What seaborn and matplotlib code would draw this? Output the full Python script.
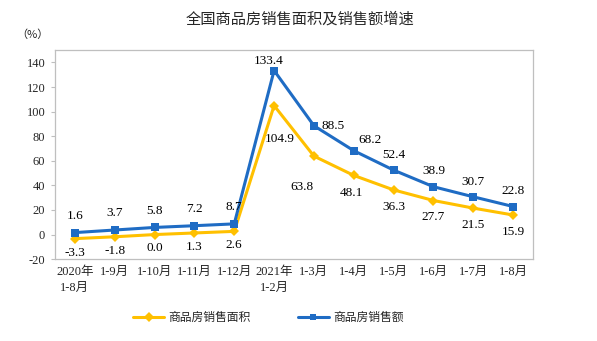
import matplotlib
matplotlib.use("Agg")
import matplotlib.pyplot as plt
import seaborn as sns
import pandas as pd
import numpy as np

categories = ["2020年\n1-8月", "1-9月", "1-10月", "1-11月", "1-12月", "2021年\n1-2月",
              "1-3月", "1-4月", "1-5月", "1-6月", "1-7月", "1-8月"]
area_growth = [-3.3, -1.8, 0.0, 1.3, 2.6, 104.9, 63.8, 48.1, 36.3, 27.7, 21.5, 15.9]
sales_growth = [1.6, 3.7, 5.8, 7.2, 8.7, 133.4, 88.5, 68.2, 52.4, 38.9, 30.7, 22.8]
area_name = "商品房销售面积"
sales_name = "商品房销售额"
yticks = [-20, 0, 20, 40, 60, 80, 100, 120, 140]

sns.set_theme(style="white")
plt.rcParams['font.family'] = ['Liberation Serif', 'Noto Sans CJK SC']
plt.rcParams['axes.unicode_minus'] = False

YELLOW = "#FFC000"
BLUE = "#1F6CC4"

fig = plt.figure(figsize=(5.97, 3.41), dpi=100)
ax = fig.add_axes([0.092, 0.240, 0.801, 0.613])

pos = np.arange(len(categories))
df = pd.DataFrame({"pos": np.concatenate([pos, pos]),
                   "value": area_growth + sales_growth,
                   "series": [area_name] * len(pos) + [sales_name] * len(pos)})

sns.lineplot(data=df, x="pos", y="value", hue="series", style="series",
             palette={area_name: YELLOW, sales_name: BLUE},
             markers={area_name: "D", sales_name: "s"}, dashes=False,
             markersize=5.5, markeredgewidth=0, linewidth=2.2, ax=ax, legend=False)

# data labels
sales_off = [(0, 12), (0, 12), (0, 12), (0, 12), (0, 12), (-4, 7), (14, 0), (12, 8),
             (0, 11), (0, 11), (0, 11), (0, 11)]
area_off = [(0, -10), (0, -10), (0, -10), (0, -10), (0, -10), (4, -24), (-9, -22), (-2, -13),
            (0, -12), (0, -12), (0, -12), (0, -12)]
for i, v in enumerate(sales_growth):
    dx, dy = sales_off[i]
    ax.annotate(f"{v:.1f}", (pos[i], v), xytext=(dx, dy), textcoords="offset points",
                ha="center", va="center", fontsize=9.5, color="black")
for i, v in enumerate(area_growth):
    dx, dy = area_off[i]
    ax.annotate(f"{v:.1f}", (pos[i], v), xytext=(dx, dy), textcoords="offset points",
                ha="center", va="center", fontsize=9.5, color="black")

ax.set_xlim(-0.5, len(categories) - 0.5)
ax.set_ylim(-20, 150)
ax.set_yticks(yticks)
ax.set_yticklabels([str(t) for t in yticks], fontsize=9)
ax.set_xticks(pos)
ax.set_xticklabels(categories, fontsize=9, linespacing=1.4)
ax.tick_params(axis='x', length=0, pad=5)
ax.set_xticks(np.arange(-0.5, len(categories)), minor=True)
ax.tick_params(axis='x', which='minor', direction='in', length=4, color="#bfbfbf", width=0.8)
ax.tick_params(axis='y', length=3, color="#bfbfbf", width=0.8, pad=4, direction='out', left=True)
ax.set_xlabel("")
ax.set_ylabel("")
for s in ax.spines.values():
    s.set_visible(True)
    s.set_color("#bfbfbf")
    s.set_linewidth(0.9)

fig.text(0.503, 0.945, "全国商品房销售面积及销售额增速", ha="center", va="center",
         fontsize=11, weight="medium", family=['Noto Sans CJK SC'])
fig.text(0.055, 0.897, "（%）", ha="center", va="center", fontsize=8,
         family=['Noto Sans CJK SC'])

from matplotlib.lines import Line2D
handles = [Line2D([0], [0], color=YELLOW, lw=2.2, marker="D", markersize=5, markeredgewidth=0),
           Line2D([0], [0], color=BLUE, lw=2.2, marker="s", markersize=5, markeredgewidth=0)]
fig.legend(handles, [area_name, sales_name], loc="center", bbox_to_anchor=(0.45, 0.068),
           ncol=2, frameon=False, handlelength=2.6, columnspacing=4,
           handletextpad=0.4, prop={'family': ['Noto Sans CJK SC'], 'size': 8.5})

fig.savefig("out.png", dpi=100)
